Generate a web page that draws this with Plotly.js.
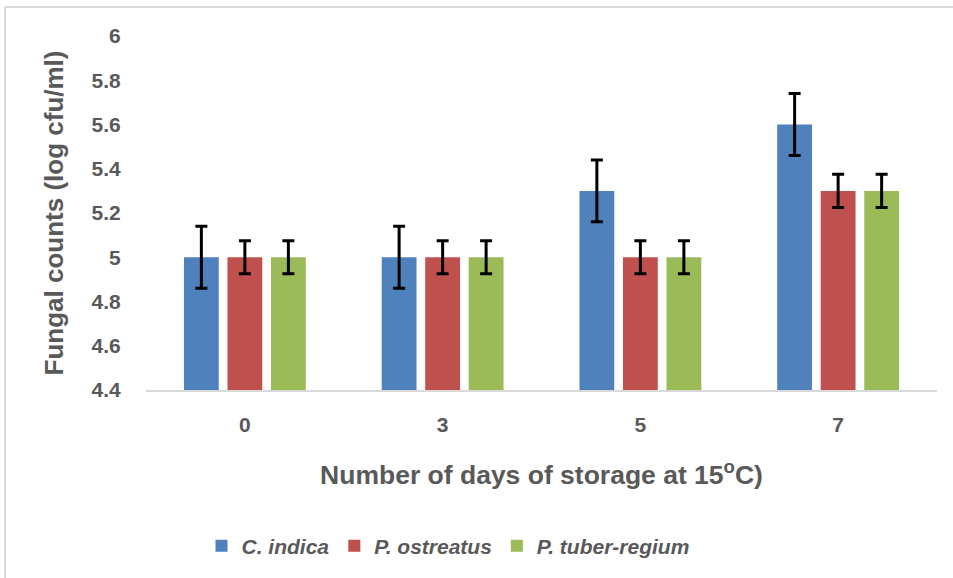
<!DOCTYPE html>
<html><head><meta charset="utf-8">
<script src="https://cdn.plot.ly/plotly-3.0.1.min.js"></script>
<style>body{margin:0;background:#fff}#chart{width:953px;height:578px}</style>
</head><body><div id="chart"></div>
<script>
const categories = ['0', '3', '5', '7'];
const seriesNames = ['<i>C. indica</i>', '<i>P. ostreatus</i>', '<i>P. tuber-regium</i>'];
const cIndica = [5.0, 5.0, 5.3, 5.6];
const pOstreatus = [5.0, 5.0, 5.0, 5.3];
const pTuberRegium = [5.0, 5.0, 5.0, 5.3];
const cIndicaErr = [0.14, 0.14, 0.14, 0.14];
const pOstreatusErr = [0.075, 0.075, 0.075, 0.075];
const pTuberRegiumErr = [0.075, 0.075, 0.075, 0.075];
const colors = ['#4f81bd', '#c0504d', '#9bbb59'];
const yTicks = [4.4, 4.6, 4.8, 5, 5.2, 5.4, 5.6, 5.8, 6];

const FONT = 'Liberation Sans, Arial, sans-serif';
const values = [cIndica, pOstreatus, pTuberRegium];
const errs = [cIndicaErr, pOstreatusErr, pTuberRegiumErr];
const traces = values.map((v, i) => ({
  type: 'bar', x: categories, y: v, name: seriesNames[i],
  marker: {color: colors[i], line: {width: 0}},
  error_y: {type: 'data', array: errs[i], visible: true, color: '#000', thickness: 3, width: 6},
  hoverinfo: 'none'
}));

const L = 146, R = 16, T = 36, B = 188;
const W = 953, H = 578;
const pw = W - L - R, ph = H - T - B;
const px = x => (x - L) / pw;
const py = y => (H - B - y) / ph;

const layout = {
  width: W, height: H,
  margin: {l: L, r: R, t: T, b: B},
  paper_bgcolor: '#fff', plot_bgcolor: '#fff',
  barmode: 'group', bargap: 0.34, bargroupgap: 0.2,
  font: {family: FONT, color: '#595959'},
  xaxis: {
    type: 'category', showgrid: false, zeroline: false,
    showline: true, linecolor: '#d9d9d9', linewidth: 2,
    ticks: '', ticklabelstandoff: 15,
    tickfont: {size: 21, color: '#595959', family: FONT, weight: 'bold'},
    title: {text: 'Number of days of storage at 15<sup>o</sup>C)', standoff: 30,
      font: {size: 26.5, color: '#595959', family: FONT, weight: 'bold'}}
  },
  yaxis: {
    range: [4.4, 6], showgrid: false, zeroline: false, showline: false,
    tickmode: 'array', tickvals: yTicks, ticktext: yTicks.map(String),
    ticks: 'outside', ticklen: 20, tickcolor: 'rgba(0,0,0,0)', tickwidth: 1,
    tickfont: {size: 21, color: '#595959', family: FONT, weight: 'bold'},
    title: {text: 'Fungal counts (log cfu/ml)', standoff: 20,
      font: {size: 26, color: '#595959', family: FONT, weight: 'bold'}}
  },
  legend: {
    orientation: 'h', x: px(448), xanchor: 'center', y: py(546), yanchor: 'middle',
    font: {size: 21, color: '#595959', family: FONT, weight: 'bold'},
    itemwidth: 30, traceorder: 'normal'
  },
  shapes: [
    {type: 'line', xref: 'paper', yref: 'paper', x0: px(5), x1: px(960), y0: py(7), y1: py(7), line: {color: '#d9d9d9', width: 2}},
    {type: 'line', xref: 'paper', yref: 'paper', x0: px(5), x1: px(5), y0: py(7), y1: py(590), line: {color: '#d9d9d9', width: 2}}
  ],
  showlegend: true
};

Plotly.newPlot('chart', traces, layout, {staticPlot: true, displayModeBar: false});
</script>
</body></html>
